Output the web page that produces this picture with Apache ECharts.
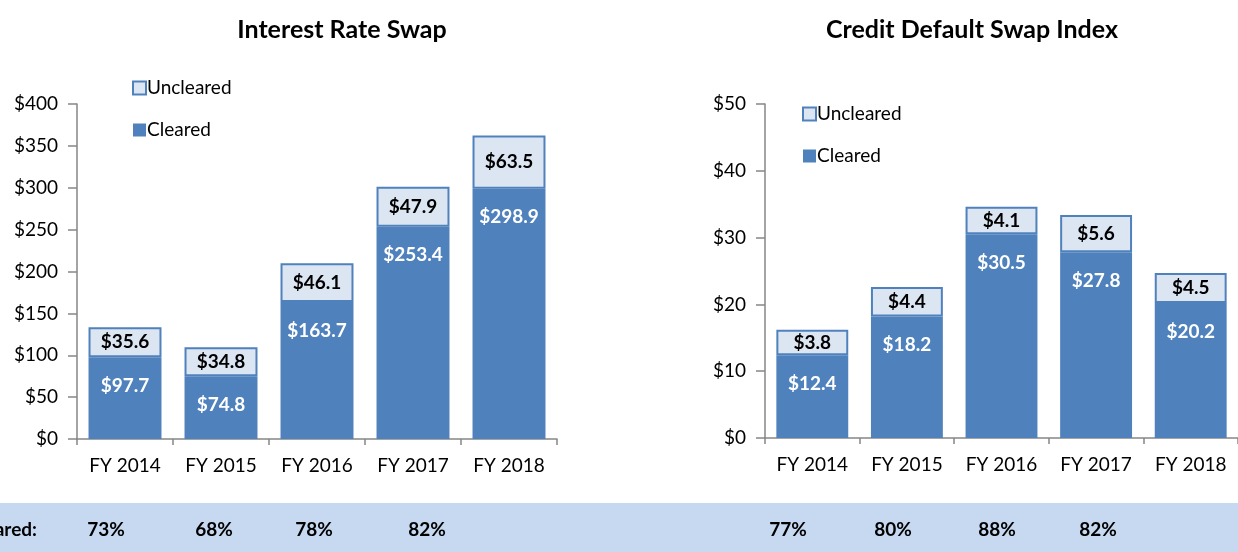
<!DOCTYPE html>
<html><head><meta charset="utf-8">
<script src="https://cdn.jsdelivr.net/npm/echarts@6/dist/echarts.min.js"></script>
<style>html,body{margin:0;padding:0;background:#fff}#c{width:1238px;height:552px}</style>
</head><body><div id="c"></div>
<script>
const categories = ['FY 2014','FY 2015','FY 2016','FY 2017','FY 2018'];
const irsCleared = [97.7, 74.8, 163.7, 253.4, 298.9];
const irsUncleared = [35.6, 34.8, 46.1, 47.9, 63.5];
const cdsCleared = [12.4, 18.2, 30.5, 27.8, 20.2];
const cdsUncleared = [3.8, 4.4, 4.1, 5.6, 4.5];
const irsPct = ['73%','68%','78%','82%'];
const cdsPct = ['77%','80%','88%','82%'];
const titles = ['Interest Rate Swap','Credit Default Swap Index'];

const FONT = 'Lato, "Open Sans", sans-serif';
const DARK = '#4F81BD', LIGHT = '#DCE6F2', AX = '#868686';
const chart = echarts.init(document.getElementById('c'));

function yAxis(idx, max, interval){
  return {gridIndex: idx, type:'value', min:0, max:max, interval:interval,
    axisLine:{show:true, lineStyle:{color:AX, width:1.5}},
    axisTick:{show:true, length:9, lineStyle:{color:AX, width:1.5}},
    splitLine:{show:false},
    axisLabel:{formatter:v=>'$'+v, color:'#000', fontSize:19, fontFamily:FONT, margin:19}};
}
function xAxis(idx){
  return {gridIndex: idx, type:'category', data:categories,
    axisLine:{lineStyle:{color:AX, width:1.5}},
    axisTick:{show:true, length:6, lineStyle:{color:AX, width:1.5}},
    axisLabel:{color:'#000', fontSize:19, fontFamily:FONT, margin:17}};
}
function series(idx, cleared, uncleared, stack){
  return [
    {name:'Cleared', type:'bar', stack:stack, xAxisIndex:idx, yAxisIndex:idx, data:cleared,
      barWidth:'76%', itemStyle:{color:DARK},
      label:{show:true, position:'insideTop', distance:19, color:'#fff', fontWeight:'bold',
        fontSize:19, fontFamily:FONT, formatter:p=>'$'+p.value.toFixed(1)}},
    {name:'Uncleared', type:'bar', stack:stack, xAxisIndex:idx, yAxisIndex:idx, data:uncleared,
      barWidth:'76%', itemStyle:{color:LIGHT, borderColor:DARK, borderWidth:2},
      label:{show:true, position:'inside', color:'#000', fontWeight:'bold',
        fontSize:19, fontFamily:FONT, formatter:p=>'$'+p.value.toFixed(1)}}
  ];
}
function legendCfg(left, top){
  return {orient:'vertical', left:left, top:top, itemWidth:13, itemHeight:13, itemGap:22, icon:'rect',
    data:[{name:'Uncleared', itemStyle:{color:LIGHT, borderColor:DARK, borderWidth:2}}, {name:'Cleared'}],
    textStyle:{fontSize:19, lineHeight:20, fontFamily:FONT, color:'#000', padding:[0,0,0,-4]}};
}

const pctText = [];
const irsX = [106, 214, 314, 427];
const cdsX = [788, 893, 997, 1098];
irsPct.forEach((t,i)=>pctText.push({type:'text', x:irsX[i], y:530,
  style:{text:t, font:'bold 19px '+FONT, fill:'#000', textAlign:'center', textVerticalAlign:'middle'}}));
cdsPct.forEach((t,i)=>pctText.push({type:'text', x:cdsX[i], y:530,
  style:{text:t, font:'bold 19px '+FONT, fill:'#000', textAlign:'center', textVerticalAlign:'middle'}}));

chart.setOption({
  animation:false,
  title:[
    {text:titles[0], left:337, top:12, textAlign:'center', textStyle:{fontSize:25, fontWeight:'bold', fontFamily:FONT, color:'#000'}},
    {text:titles[1], left:967, top:12, textAlign:'center', textStyle:{fontSize:25, fontWeight:'bold', fontFamily:FONT, color:'#000'}}
  ],
  legend:[legendCfg(127, 73), legendCfg(797, 99)],
  grid:[
    {left:77, top:104, width:480, height:335},
    {left:765, top:104, width:484, height:334}
  ],
  xAxis:[xAxis(0), xAxis(1)],
  yAxis:[yAxis(0, 400, 50), yAxis(1, 50, 10)],
  series:[...series(0, irsCleared, irsUncleared, 'a'), ...series(1, cdsCleared, cdsUncleared, 'b')],
  graphic:[
    {type:'rect', left:0, top:503, shape:{width:1238, height:49}, style:{fill:'#C6D9F1'}, z:-1},
    {type:'text', x:37, y:530, style:{text:'Percent Cleared:', font:'bold 19px '+FONT, fill:'#000', textAlign:'right', textVerticalAlign:'middle'}},
    ...pctText
  ]
});
</script></body></html>
